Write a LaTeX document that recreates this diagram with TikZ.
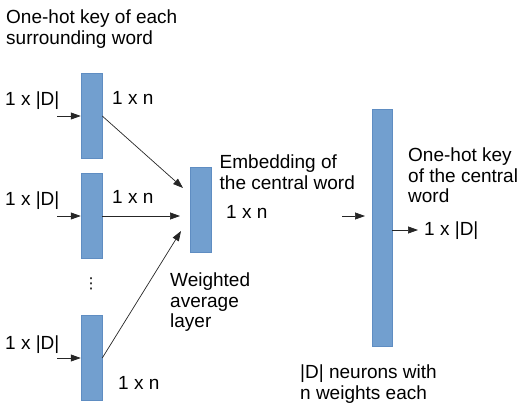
\documentclass[tikz,border=0pt]{standalone}
\usepackage{fontspec}
\setmainfont{Liberation Sans}
\newfontfamily\symfont{DejaVu Sans}
\usetikzlibrary{arrows.meta}
\definecolor{boxblue}{HTML}{729FCF}
\definecolor{boxedge}{HTML}{5F8DC2}
\begin{document}
\begin{tikzpicture}[x=1pt,y=-1pt,
  layerbox/.style={draw=boxedge, fill=boxblue, line width=0.5pt, minimum width=21pt, minimum height=85pt, inner sep=0pt},
  lbl/.style={font=\fontsize{19}{20.5}\selectfont, inner sep=0pt, anchor=base west},
  mlbl/.style={font=\fontsize{19}{20.5}\selectfont, inner sep=0pt, anchor=north west, align=left},
  arr/.style={-{Triangle[length=10pt,width=7pt]}, line width=0.7pt, draw=black!85}
]
\useasboundingbox (0,0) rectangle (522,404);

% layers
\node[layerbox] (b1) at (91.5,116) {};
\node[layerbox] (b2) at (91.5,216) {};
\node[layerbox] (b3) at (91.5,358) {};
\node[layerbox] (mid) at (200.5,209.5) {};
\node[layerbox, minimum width=20pt, minimum height=237pt] (outl) at (382,227.5) {};

% free ends
\coordinate (i1) at (57,116);
\coordinate (i2) at (57,216);
\coordinate (i3) at (57,358);
\coordinate (m1) at (183,188);
\coordinate (m2) at (180,216);
\coordinate (m3) at (181,231);
\coordinate (e1) at (342,216);
\coordinate (e2) at (365,216);
\coordinate (o1) at (418,230);

% arrows
\draw[arr] (i1) -- (b1.west);
\draw[arr] (i2) -- (b2.west);
\draw[arr] (i3) -- (b3.west);
\draw[arr] (b1.east) -- (m1);
\draw[arr] (b2.east) -- (m2);
\draw[arr] (b3.east) -- (m3);
\draw[arr] (e1) -- (e2);
\draw[arr] (outl.east |- o1) -- (o1);

% texts
\node[mlbl] (title) at (6,10) {One-hot key of each\\surrounding word};
\node[lbl] (d1) at (5,105) {1 x |D|};
\node[lbl] (d2) at (5,205) {1 x |D|};
\node[lbl] (d3) at (5,349) {1 x |D|};
\node[lbl] (n1) at (112,104) {1 x n};
\node[lbl] (n2) at (112,203) {1 x n};
\node[lbl] (n3) at (118,389) {1 x n};
\node[mlbl] (emb) at (219.5,155) {Embedding of\\the central word};
\node[lbl] (nm) at (226,218) {1 x n};
\node[mlbl] (wavg) at (170,273) {Weighted\\average\\layer};
\node[mlbl] (ohk) at (408,148) {One-hot key\\of the central\\word};
\node[lbl] (dout) at (424,235) {1 x |D|};
\node[mlbl] (neur) at (300,365) {|D| neurons with\\n weights each};
\node[font=\symfont\fontsize{15}{15}\selectfont, inner sep=0pt] (dots) at (91,284) {⋮};
\end{tikzpicture}
\end{document}
